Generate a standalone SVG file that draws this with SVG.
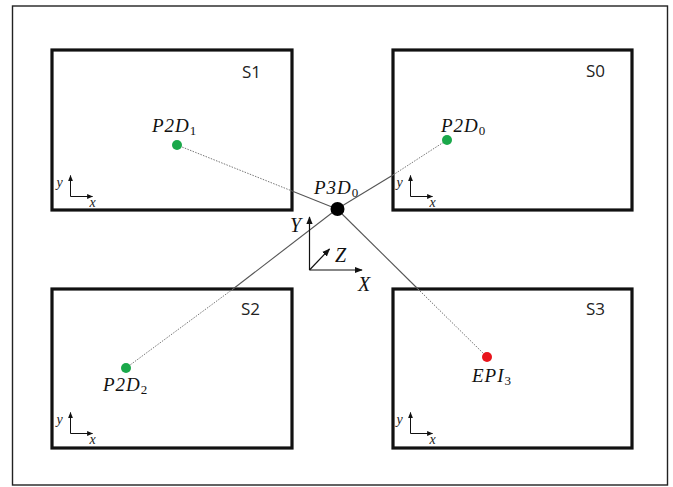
<svg xmlns="http://www.w3.org/2000/svg" width="673" height="487" viewBox="0 0 673 487">
<style>
.frame{fill:none;stroke:#222;stroke-width:1.4}
.box{fill:#fff;stroke:#111;stroke-width:3.2}
.lbl{font-family:"Open Sans","Liberation Sans",sans-serif;font-size:17px;fill:#222}
.math{font-family:"Liberation Serif","DejaVu Serif",serif;font-style:italic;font-size:19px;fill:#111;letter-spacing:1px}
.sub{font-style:normal;font-size:13px;letter-spacing:0}
.ax{font-family:"Liberation Serif","DejaVu Serif",serif;font-style:italic;font-size:14px;fill:#222}
.bigax{font-family:"Liberation Serif","DejaVu Serif",serif;font-style:italic;font-size:20px;fill:#111}
.solid{stroke:#555;stroke-width:1.1;fill:none}
.dot{stroke:#777;stroke-width:1;stroke-dasharray:1.5 1.3;fill:none}
.axl{stroke:#111;stroke-width:1;fill:none}
.axb{stroke:#111;stroke-width:1.2;fill:none}
</style>
<defs>
<marker id="ah" viewBox="0 0 10 10" refX="9" refY="5" markerWidth="6" markerHeight="6" orient="auto" markerUnits="userSpaceOnUse">
<path d="M0,1 L10,5 L0,9 Z" fill="#111"/>
</marker>
<marker id="ahb" viewBox="0 0 10 10" refX="9" refY="5" markerWidth="8" markerHeight="8" orient="auto" markerUnits="userSpaceOnUse">
<path d="M0,1 L10,5 L0,9 Z" fill="#111"/>
</marker>
<g id="smallaxes">
<line class="axl" x1="0" y1="0" x2="0" y2="-21" marker-end="url(#ah)"/>
<line class="axl" x1="0" y1="0" x2="22" y2="0" marker-end="url(#ah)"/>
<text class="ax" x="-14" y="-10">y</text>
<text class="ax" x="19" y="10">x</text>
</g>
</defs>
<rect width="673" height="487" fill="#fff"/>
<rect class="frame" x="12.5" y="6" width="655" height="479"/>

<g id="S1">
<rect class="box" x="52" y="50" width="240" height="160"/>
<text class="lbl" x="242" y="78">S1</text>
<use href="#smallaxes" x="70.5" y="196.5"/>
</g>
<g id="S0">
<rect class="box" x="393" y="50" width="239" height="160"/>
<text class="lbl" x="586" y="77">S0</text>
<use href="#smallaxes" x="410.5" y="196.5"/>
</g>
<g id="S2">
<rect class="box" x="52" y="289" width="240" height="159"/>
<text class="lbl" x="241" y="315">S2</text>
<use href="#smallaxes" x="70.5" y="433.5"/>
</g>
<g id="S3">
<rect class="box" x="393" y="289" width="239" height="159"/>
<text class="lbl" x="586" y="315">S3</text>
<use href="#smallaxes" x="410.5" y="433.5"/>
</g>

<g id="connectors">
<line class="dot" x1="177" y1="145" x2="292" y2="191"/>
<line class="solid" x1="292" y1="191" x2="337" y2="209"/>
<line class="solid" x1="337" y1="209" x2="393" y2="175"/>
<line class="dot" x1="393" y1="175" x2="447" y2="140"/>
<line class="solid" x1="337" y1="209" x2="233" y2="289"/>
<line class="dot" x1="233" y1="289" x2="126" y2="368"/>
<line class="solid" x1="337" y1="209" x2="418" y2="289"/>
<line class="dot" x1="418" y1="289" x2="487" y2="357"/>
</g>

<g id="P2D1">
<circle cx="177" cy="145" r="5" fill="#1aa84a"/>
<text class="math" x="152" y="132">P2D<tspan class="sub" dy="3">1</tspan></text>
</g>
<g id="P2D0">
<circle cx="447" cy="140" r="5" fill="#1aa84a"/>
<text class="math" x="441" y="132">P2D<tspan class="sub" dy="3">0</tspan></text>
</g>
<g id="P2D2">
<circle cx="126" cy="368" r="5" fill="#1aa84a"/>
<text class="math" x="103" y="391">P2D<tspan class="sub" dy="3">2</tspan></text>
</g>
<g id="EPI3">
<circle cx="487" cy="357" r="5" fill="#e8141c"/>
<text class="math" x="472" y="382">EPI<tspan class="sub" dy="3">3</tspan></text>
</g>
<g id="P3D0">
<circle cx="337.5" cy="209" r="7" fill="#000"/>
<text class="math" x="314" y="194">P3D<tspan class="sub" dy="3">0</tspan></text>
</g>

<g id="world-axes">
<line class="axb" x1="309.5" y1="270" x2="309.5" y2="217" marker-end="url(#ahb)"/>
<line class="axb" x1="309.5" y1="270" x2="362" y2="270" marker-end="url(#ahb)"/>
<line class="axb" x1="309.5" y1="270" x2="329.5" y2="249" marker-end="url(#ahb)"/>
<text class="bigax" x="290" y="232">Y</text>
<text class="bigax" x="335" y="262">Z</text>
<text class="bigax" x="358" y="291">X</text>
</g>
</svg>
